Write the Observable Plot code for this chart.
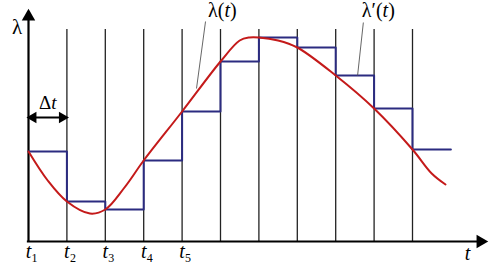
<!DOCTYPE html>
<html><head><meta charset="utf-8">
<script src="https://cdn.jsdelivr.net/npm/d3@7"></script>
<script src="https://cdn.jsdelivr.net/npm/@observablehq/plot@0.6"></script>
<style>
html,body{margin:0;padding:0;background:#fff}
</style>
</head><body><div id="chart"></div>
<script>
// sample times (t1 .. t11 -> 0..10) and held values of λ'(t)
const stepT = [0, 1, 2, 3, 4, 5, 6, 7, 8, 9, 10, 11];
const stepLambda = [9.0, 4.0, 3.2, 8.1, 13.0, 18.0, 20.4, 19.4, 16.6, 13.3, 9.2, 9.2];
// continuous λ(t)
const curveT = [0, 0.5, 1, 1.6, 2, 2.5, 3, 4, 5, 5.5, 5.75, 6, 6.5, 7, 8, 9, 10, 10.5, 10.86];
const curveLambda = [9.0, 6.1, 4.0, 2.8, 3.2, 5.4, 8.1, 13.0, 18.0, 20.1, 20.4, 20.4, 20.1, 19.4, 16.6, 13.3, 9.2, 6.8, 5.7];
// grid lines at sample times
const gridT = [1, 2, 3, 4, 5, 6, 7, 8, 9, 10];
// tick labels
const tickT = [0, 1, 2, 3, 4];
const tickSub = ["1", "2", "3", "4", "5"];

const step = stepT.map((t, i) => ({t, l: stepLambda[i]}));
const curve = curveT.map((t, i) => ({t, l: curveLambda[i]}));
const ticks = tickT.map((t, i) => ({t, s: tickSub[i]}));

const chart = Plot.plot({
  width: 493, height: 266,
  x: {domain: [0, 10], range: [28, 412], axis: null},
  y: {domain: [0, 20], range: [241, 41], axis: null},
  style: {background: "#fff", overflow: "visible"},
  marks: [
    Plot.ruleX(gridT, {y1: 0, y2: 21.2, stroke: "#222", strokeWidth: 1.3}),
    Plot.ruleX([0], {y1: 0, y2: 22.4, stroke: "#000", strokeWidth: 2.2}),
    Plot.ruleY([0], {x1: -0.03, x2: 11.7, stroke: "#000", strokeWidth: 2.2}),
    Plot.dot([{t: 0, l: 22.5}], {x: "t", y: "l", symbol: "triangle", r: 5, fill: "#000"}),
    Plot.dot([{t: 11.77, l: 0}], {x: "t", y: "l", symbol: "triangle", r: 5, fill: "#000", rotate: 90}),
    // Δt double arrow
    Plot.ruleY([12.4], {x1: 0.05, x2: 0.95, stroke: "#000", strokeWidth: 1.8}),
    Plot.dot([{t: 0.12, l: 12.4, r: -90}, {t: 0.88, l: 12.4, r: 90}], {x: "t", y: "l", symbol: "triangle", r: 4.3, fill: "#000", rotate: "r"}),
    Plot.text(["Δt"], {x: 0.5, y: 13.9, text: d => d, fontSize: 19, fill: "#000"}),
    // step function
    Plot.line(step, {x: "t", y: "l", curve: "step-after", stroke: "#2b2b80", strokeWidth: 2}),
    // continuous curve
    Plot.line(curve, {x: "t", y: "l", curve: "catmull-rom", stroke: "#c41a1a", strokeWidth: 2}),
    // leaders
    Plot.link([{x1: 4.61, y1: 22.0, x2: 4.375, y2: 15.3}, {x1: 8.72, y1: 21.9, x2: 8.57, y2: 16.6}],
      {x1: "x1", y1: "y1", x2: "x2", y2: "y2", stroke: "#555", strokeWidth: 0.9}),
    Plot.text([{t: 5.05, l: 23.1, s: "λ(t)"}, {t: 9.11, l: 23.1, s: "λ'(t)"}], {x: "t", y: "l", text: "s", fontSize: 20, fill: "#000"}),
    Plot.text([{t: -0.3, l: 21.4, s: "λ"}], {x: "t", y: "l", text: "s", fontSize: 21, fill: "#000"}),
    // tick labels
    Plot.text(ticks, {x: "t", y: -1.0, text: () => "t", fontSize: 20, fontStyle: "italic", fill: "#000"}),
    Plot.text(ticks, {x: "t", y: -1.0, text: "s", dx: 6, dy: 7, fontSize: 12, fill: "#000"}),
    Plot.text(["t"], {x: 11.43, y: -1.2, text: d => d, fontSize: 20, fontStyle: "italic", fill: "#000"})
  ]
});
document.getElementById("chart").appendChild(chart);
// serif font set directly on every text element
d3.select(chart).selectAll("text").each(function() {
  this.setAttribute("font-family", "Liberation Serif");
  this.style.fontFamily = "'Liberation Serif', 'DejaVu Serif', serif";
  const g = this.parentNode;
  const fs = g.getAttribute("font-size");
  if (fs) this.style.fontSize = fs + "px";
  const s = this.textContent;
  if (s === "λ(t)" || s === "λ'(t)" || s === "Δt") {
    const pre = s === "λ(t)" ? "λ(" : s === "λ'(t)" ? "λ′(" : "Δ";
    const post = s === "Δt" ? "" : ")";
    const el = d3.select(this);
    el.text(null);
    el.append("tspan").text(pre);
    el.append("tspan").attr("font-style", "italic").style("font-style", "italic").text("t");
    if (post) el.append("tspan").text(post);
  }
});
</script></body></html>
